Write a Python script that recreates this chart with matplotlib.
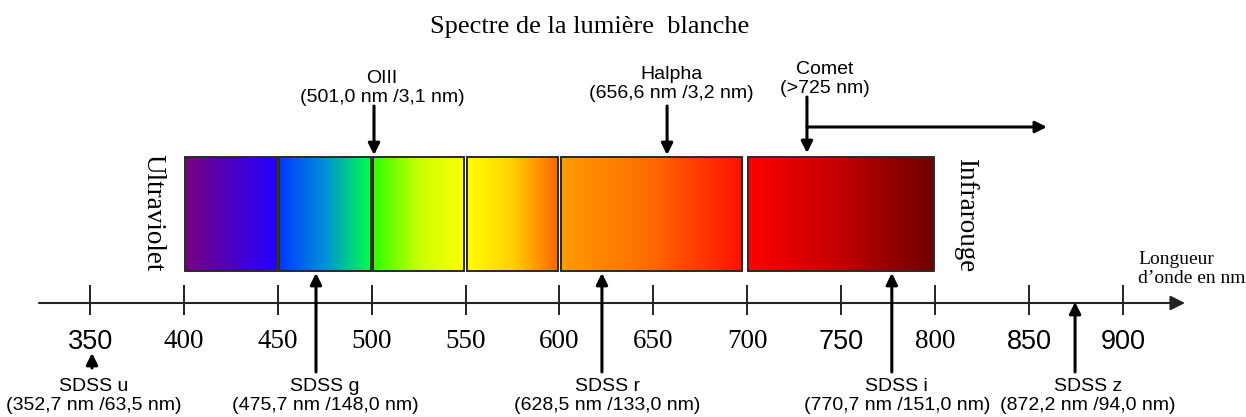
import numpy as np
import matplotlib
matplotlib.use('Agg')
from matplotlib import pyplot as plt
from matplotlib.colors import LinearSegmentedColormap
from matplotlib.patches import Rectangle

# wavelength axis (nm)
tick_values = [350, 400, 450, 500, 550, 600, 650, 700, 750, 800, 850, 900]
sans_ticks = [350, 750, 850, 900]

# coloured bands of the visible spectrum
band_start = [400, 450, 500, 550, 600, 700]
band_end = [450, 500, 550, 600, 698, 800]
band_colors = [
    ['#78007f', '#2200ff'],
    ['#0038ff', '#0090d8', '#00ff48'],
    ['#30ff00', '#c8ff00', '#ffff00'],
    ['#ffff00', '#ffd000', '#ff6400'],
    ['#ff9c00', '#ff6a00', '#ff1000'],
    ['#ff0000', '#c00000', '#700000'],
]

# SDSS filters: name, centre / width, arrow position
filter_names = ['SDSS u', 'SDSS g', 'SDSS r', 'SDSS i', 'SDSS z']
filter_center = [352.7, 475.7, 628.5, 770.7, 872.2]
filter_width = [63.5, 148.0, 133.0, 151.0, 94.0]
filter_arrow = [351.0, 470.3, 622.6, 777.0, 874.6]

# emission lines
line_names = ['OIII', 'Halpha']
line_center = [501.0, 656.6]
line_width = [3.1, 3.2]
line_arrow = [501.2, 657.3]

# comet
comet_min = 725
comet_arrow = 731.8
comet_end = 859.6

PX = 1.8775  # pixels per nm


def fmt(v):
    return ('%.1f' % v).replace('.', ',')


def px(x):
    # pixel column -> nm
    return 400 + (x - 184) / PX


fig = plt.figure(figsize=(12.46, 4.17), dpi=100)
ax = fig.add_axes([0, 0, 1, 1])
ax.set_xlim(px(0), px(1246))
ax.set_ylim(417, 0)
ax.axis('off')

serif = 'Liberation Serif'
sans = 'Liberation Sans'

ax.text(px(590), 33, 'Spectre de la lumière  blanche', ha='center',
        va='baseline', fontsize=19, family=serif)

# bands
top, bot = 157, 271
grad = np.linspace(0, 1, 256).reshape(1, -1)
for x0, x1, cols in zip(band_start, band_end, band_colors):
    cm = LinearSegmentedColormap.from_list('b', cols)
    a, b = x0 + 0.6, x1 - 0.6
    ax.imshow(grad, cmap=cm, extent=(a, b, bot, top), aspect='auto',
              interpolation='bilinear', zorder=1)
    ax.add_patch(Rectangle((a, top), b - a, bot - top, fill=False,
                           ec='#2a2a2a', lw=1.4, zorder=2))

ax.text(px(153), 213, 'Ultraviolet', rotation=-90, ha='center',
        va='center', fontsize=19.5, family=serif)
ax.text(px(966), 215, 'Infrarouge', rotation=-90, ha='center',
        va='center', fontsize=19.5, family=serif)

# wavelength axis
y_ax = 303
ax.annotate('', xy=(px(1185), y_ax), xytext=(px(39), y_ax),
            arrowprops=dict(arrowstyle='-|>', lw=1.5, color='#222222',
                            mutation_scale=22, shrinkA=0, shrinkB=0))
ax.vlines(tick_values, 285, 315, color='#222222', lw=1.4)
for t in tick_values:
    ax.text(t, 342, str(t), ha='center', va='center', fontsize=19.5,
            family=sans if t in sans_ticks else serif)

ax.text(px(1138), 269, 'Longueur\nd\u2019onde en nm',
        ha='left', va='center', fontsize=14, family=serif, linespacing=1.15)

arrow_kw = dict(arrowstyle='-|>', lw=2.2, color='black', mutation_scale=17,
                shrinkA=0, shrinkB=0)

# SDSS filters (below)
tips = [353, 273, 273, 273, 302]
tails = [368, 372, 372, 372, 372]
label_dx = [2, 9, 5.5, 5, 13]
for name, c, w, xa, tip, tail, dx in zip(filter_names, filter_center,
                                          filter_width, filter_arrow, tips,
                                          tails, label_dx):
    ax.annotate('', xy=(xa, tip), xytext=(xa, tail), arrowprops=arrow_kw)
    ax.text(xa + dx / PX, 396, '%s\n(%s nm /%s nm)' % (name, fmt(c), fmt(w)),
            ha='center', va='center', fontsize=14, family=sans,
            linespacing=1.15)

# emission lines (above)
line_y = [88, 84]
line_dx = [8, 4]
for name, c, w, xa, yl, dx in zip(line_names, line_center, line_width,
                                  line_arrow, line_y, line_dx):
    ax.annotate('', xy=(xa, 155), xytext=(xa, 106), arrowprops=arrow_kw)
    ax.text(xa + dx / PX, yl, '%s\n(%s nm /%s nm)' % (name, fmt(c), fmt(w)),
            ha='center', va='center', fontsize=14, family=sans,
            linespacing=1.15)

# comet
ax.annotate('', xy=(comet_arrow, 153), xytext=(comet_arrow, 97),
            arrowprops=arrow_kw)
ax.annotate('', xy=(comet_end, 127), xytext=(comet_arrow, 127),
            arrowprops=arrow_kw)
ax.text(comet_arrow + 18 / PX, 79, 'Comet\n(>%d nm)' % comet_min,
        ha='center', va='center', fontsize=14, family=sans,
        linespacing=1.15)

fig.savefig('out.png', dpi=100)
